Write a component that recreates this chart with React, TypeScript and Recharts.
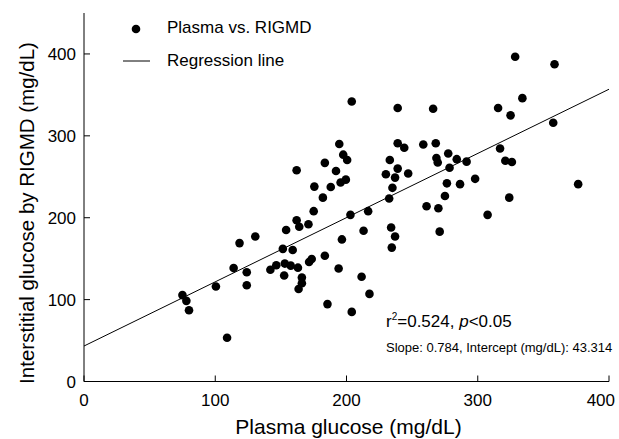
import React from 'react';
import { ScatterChart, Scatter, XAxis, YAxis, ReferenceLine } from 'recharts';

const FONT = '"Liberation Sans", Arial, Helvetica, sans-serif';

const plasma = [
  204, 239, 266, 194.5, 239, 244, 258.5, 268, 197.5, 200.5, 183.5, 233, 268.5, 269.5, 277.5,
  192, 239, 230, 237, 247, 199.5, 195.5, 175.5, 188, 235, 278.5, 276.5,
  328.5, 358.5, 334, 315.5, 325, 357.5, 317, 321, 326, 284, 291.5, 286.5, 298, 376.5,
  324, 307.5,
  182, 232.5, 261, 270, 175, 203, 216.5, 234, 237, 234.5, 271, 213, 196.5, 173.5, 183.5,
  194, 211.5, 217.5, 185.5, 204, 275,
  162, 164, 171, 154, 130.5, 118.5, 151.5, 159, 114, 124, 124, 100.5, 142, 146.5, 153,
  157.5, 163, 152.5, 166, 166, 163.5, 171.5, 75, 78, 80, 109,
  162,
];
const rigmd = [
  342, 334, 333, 290, 291, 285.5, 289.5, 291, 277, 270.5, 267, 270.5, 273, 267.5, 278.5,
  257, 260, 253, 249, 254, 246.5, 243, 238, 237.5, 236.5, 261, 242,
  396.5, 387.5, 346, 334, 325, 316, 284.5, 269.5, 268, 271.5, 268.5, 241, 247.5, 241,
  224.5, 203.5,
  224.5, 223.5, 214, 211.5, 208, 203.5, 208, 188, 177, 163.5, 183, 184, 173.5, 149.5, 153.5,
  138, 128, 107, 94.5, 85, 226.5,
  197, 189, 192, 185, 177, 169, 162, 160.5, 138.5, 133.5, 117.5, 116, 136.5, 142, 144,
  141.5, 139, 129.5, 127, 120, 113, 146, 105.5, 98.5, 87, 53.5,
  258,
];

const xTicks = [0, 100, 200, 300, 400];
const yTicks = [0, 100, 200, 300, 400];
const slope = 0.784;
const intercept = 43.314;
const seriesName = 'Plasma vs. RIGMD';
const lineName = 'Regression line';
const xTitle = 'Plasma glucose (mg/dL)';
const yTitle = 'Interstitial glucose by RIGMD (mg/dL)';
const statR2 = '0.524';
const statP = '<0.05';
const statLine2 = 'Slope: 0.784, Intercept (mg/dL): 43.314';

const data = plasma.map((x, i) => ({ x, y: rigmd[i] }));

const XTick = (props: any) => {
  const { x, y, payload, index } = props;
  const isLast = index === xTicks.length - 1;
  return (
    <g>
      <line x1={x} x2={x} y1={y} y2={y - 6} stroke="#000" strokeWidth={1} />
      <text
        x={isLast ? x + 6 : x}
        y={y + 24}
        textAnchor={isLast ? 'end' : 'middle'}
        fontSize={17}
        fontFamily={FONT}
        fill="#000"
      >
        {payload.value}
      </text>
    </g>
  );
};

const YTick = (props: any) => {
  const { x, y, payload } = props;
  return (
    <g>
      <line x1={x} x2={x + 6} y1={y} y2={y} stroke="#000" strokeWidth={1} />
      <text x={x - 8} y={y + 6} textAnchor="end" fontSize={17} fontFamily={FONT} fill="#000">
        {payload.value}
      </text>
    </g>
  );
};

const XTitle = (props: any) => {
  const vb = props.viewBox;
  return (
    <text x={vb.x + vb.width / 2 + 2} y={434} textAnchor="middle" fontSize={21} fontFamily={FONT} fill="#000">
      {xTitle}
    </text>
  );
};

const YTitle = () => (
  <text
    x={34}
    y={213}
    transform="rotate(-90 34 213)"
    textAnchor="middle"
    fontSize={20.5}
    fontFamily={FONT}
    fill="#000"
  >
    {yTitle}
  </text>
);

const Dot = (p: any) => <circle cx={p.cx} cy={p.cy} r={4.3} fill="#000" />;

export default function App() {
  return (
    <div style={{ position: 'absolute', left: 0, top: 0, width: 619, height: 439, background: '#fff' }}>
      <ScatterChart width={619} height={439} margin={{ top: 13, right: 10, left: 24, bottom: 27.5 }}>
        <XAxis
          type="number"
          dataKey="x"
          domain={[0, 400]}
          ticks={xTicks}
          interval={0}
          height={30}
          tickLine={false}
          tickSize={0}
          tickMargin={0}
          axisLine={{ stroke: '#000', strokeWidth: 1 }}
          tick={<XTick />}
          label={<XTitle />}
          allowDataOverflow
        />
        <YAxis
          type="number"
          dataKey="y"
          domain={[0, 450]}
          ticks={yTicks}
          interval={0}
          width={60}
          tickLine={false}
          tickSize={0}
          tickMargin={0}
          axisLine={{ stroke: '#000', strokeWidth: 1 }}
          tick={<YTick />}
          label={<YTitle />}
          allowDataOverflow
        />
        <ReferenceLine
          segment={[
            { x: 0, y: intercept },
            { x: 400, y: slope * 400 + intercept },
          ]}
          stroke="#000"
          strokeWidth={1}
          ifOverflow="visible"
        />
        <Scatter name={seriesName} data={data} shape={<Dot />} isAnimationActive={false} />
      </ScatterChart>
      <svg width={619} height={439} style={{ position: 'absolute', left: 0, top: 0, pointerEvents: 'none' }}>
        <circle cx={136} cy={29} r={4.3} fill="#000" />
        <text x={167} y={33} fontSize={17} fontFamily={FONT} fill="#000">{seriesName}</text>
        <line x1={123} x2={150} y1={61} y2={61} stroke="#000" strokeWidth={1} />
        <text x={167} y={66} fontSize={17} fontFamily={FONT} fill="#000">{lineName}</text>
        <text x={386} y={327} fontSize={17} fontFamily={FONT} fill="#000">
          r<tspan fontSize={10} dy={-7}>2</tspan>
          <tspan dy={7}>={statR2}, </tspan>
          <tspan fontStyle="italic">p</tspan>
          <tspan>{statP}</tspan>
        </text>
        <text x={386} y={351.5} fontSize={13} fontFamily={FONT} fill="#000">
          {statLine2}
        </text>
      </svg>
    </div>
  );
}
